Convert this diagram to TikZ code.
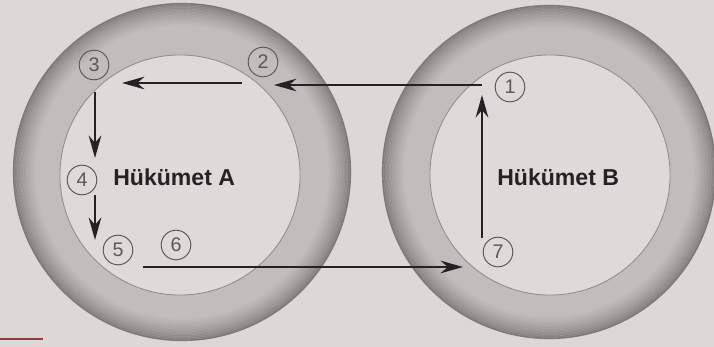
\documentclass[tikz,border=0pt]{standalone}
\usepackage{fontspec}
\setmainfont{Liberation Sans}
\usetikzlibrary{arrows.meta,positioning,calc}
\definecolor{bg}{RGB}{221,216,216}
\definecolor{ringlt}{RGB}{194,189,189}
\definecolor{ringdk}{RGB}{125,120,120}
\definecolor{corefill}{RGB}{222,218,218}
\definecolor{rim}{RGB}{145,140,140}
\definecolor{ink}{RGB}{35,35,35}
\definecolor{numc}{RGB}{90,90,90}
\definecolor{redline}{RGB}{140,62,56}

\begin{document}
\begin{tikzpicture}[x=0.025cm,y=-0.025cm,>={Stealth[length=16pt,width=9pt]},
  ring/.style={circle,inner sep=0pt,fill=ringlt},
  core/.style={circle,inner sep=0pt,minimum size=6cm,fill=corefill,draw=rim,line width=0.6pt},
  num/.style={circle,draw=numc,line width=0.7pt,text=numc,minimum size=0.74cm,inner sep=0pt,font=\fontsize{14}{14}\selectfont},
  gov/.style={anchor=west,inner sep=0pt,text=ink,font=\fontsize{16.4}{18}\selectfont\bfseries},
  flow/.style={->,draw=ink,line width=1.4pt}]
\fill[bg] (0,0) rectangle (714,347);
\useasboundingbox (0,0) rectangle (714,347);
% the two governments
\node (ringA) [ring,minimum size=8.45cm] at (182,172) {};
\node (ringB) [ring,minimum size=8.35cm] at (549,172) {};
\foreach \r/\R in {ringA/4.225,ringB/4.175}
  \foreach \k in {0,...,15}{
    \pgfmathsetmacro\mix{100*(\k/15)^0.7}
    \draw[ringlt!\mix!ringdk,line width=0.04cm] (\r.center) circle ({\R cm-(\k+0.5)*0.0375cm});
  }
\node (coreA) [core] at (180,175) {};
\node (coreB) [core] at (550,175) {};
\node (govA) [gov] at (113,177) {Hükümet A};
\node (govB) [gov] at (497,177) {Hükümet B};
% steps
\node (s1) [num] at (510,87) {1};
\node (s2) [num] at (263,62) {2};
\node (s3) [num] at (94,65) {3};
\node (s4) [num] at (82,180) {4};
\node (s5) [num] at (118,250) {5};
\node (s6) [num] at (176,245) {6};
\node (s7) [num] at (498,252) {7};
% flows
\draw[flow] ([shift={(-28,-2)}]s1.center) -- ([shift={(11,23)}]s2.center);
\draw[flow] ([shift={(-21,21)}]s2.center) -- ([shift={(28,18)}]s3.center);
\draw[flow] ([shift={(1,27)}]s3.center) -- ([shift={(13,-22)}]s4.center);
\draw[flow] ([shift={(13,15)}]s4.center) -- ([shift={(-23,-10)}]s5.center);
\draw[flow] ([shift={(25,17)}]s5.center) -- ([shift={(-35,15)}]s7.center);
\draw[flow] ([shift={(-16,-14)}]s7.center) -- ([shift={(-28,8)}]s1.center);
\draw[redline,line width=1.8pt] (0,339) -- (43,339);
\end{tikzpicture}
\end{document}
